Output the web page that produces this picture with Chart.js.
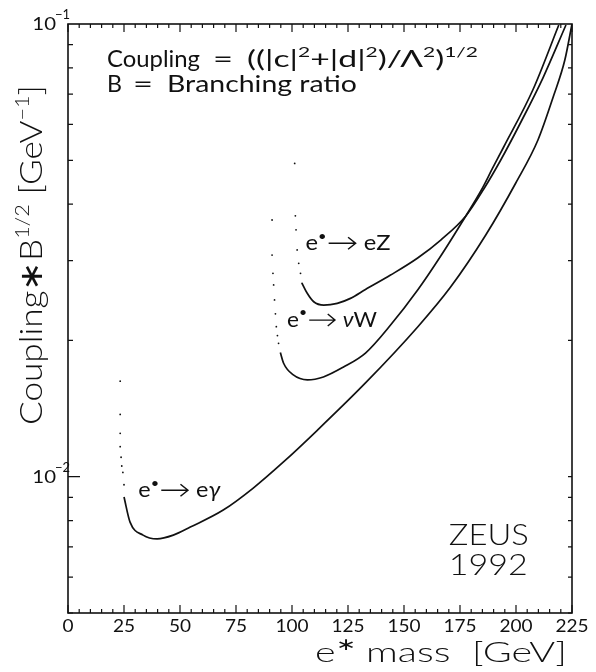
<!doctype html>
<html lang="en">
<head>
<meta charset="utf-8">
<title>ZEUS 1992 excited electron limits</title>
<style>
  * { margin: 0; padding: 0; }
  body { background: #fff; }
  .chartBox { width: 596px; height: 672px; }
</style>
</head>
<body>
<div class="chartBox"><canvas id="myChart"></canvas></div>
<script src="https://cdn.jsdelivr.net/npm/chart.js"></script>
<script>
// axes
const massMin = 0, massMax = 225;
const couplingMin = 0.005, couplingMax = 0.1;
const massTicks = [0, 25, 50, 75, 100, 125, 150, 175, 200, 225];
const decadeTicks = [0.01, 0.1];
const decadeExps = ['\u22122', '\u22121'];

// e* -> e gamma (dotted near threshold, then solid)
const egDotMass = [23.3, 23.3, 23.3, 23.3, 23.7, 24.0, 24.5, 25.0];
const egDotCoupling = [0.01626, 0.01373, 0.01247, 0.01165, 0.01104, 0.01056, 0.01022, 0.0096];
const egMass = [25.0, 27.7, 33.5, 39.8, 47.0, 54.6, 69.3, 82.7, 96.2, 111.4, 132.8, 156.1, 170.8, 186.5, 199.9, 209.8, 216.9, 221.8, 225.0];
const egCoupling = [0.00902, 0.00794, 0.00743, 0.00729, 0.00743, 0.00774, 0.00844, 0.00944, 0.01078, 0.01268, 0.01611, 0.02142, 0.02624, 0.03419, 0.04455, 0.05543, 0.06969, 0.08326, 0.1];

// e* -> nu W
const nwDotMass = [91.1, 91.1, 91.5, 91.8, 92.2, 92.6, 93.0, 93.5, 94.0];
const nwDotCoupling = [0.0369, 0.03088, 0.02814, 0.02652, 0.02457, 0.0229, 0.02145, 0.0205, 0.01971];
const nwMass = [94.8, 96.2, 100.6, 106.9, 114.0, 123.0, 132.8, 144.0, 156.1, 166.4, 177.6, 184.3, 189.6, 194.5, 207.5, 219.1];
const nwCoupling = [0.0188, 0.01783, 0.01678, 0.01636, 0.01661, 0.01747, 0.01876, 0.02163, 0.02585, 0.03073, 0.03767, 0.04276, 0.04808, 0.05349, 0.07148, 0.0995];

// e* -> e Z
const ezDotMass = [101.2, 101.5, 101.8, 102.3, 103.0, 103.8, 104.5];
const ezDotCoupling = [0.0492, 0.0377, 0.0351, 0.0317, 0.0296, 0.02814, 0.02674];
const ezMass = [104.5, 106.8, 109.7, 114.2, 120.2, 126.1, 132.8, 144.0, 156.1, 166.4, 177.6, 185.6, 193.2, 202.2, 212.0, 222.3];
const ezCoupling = [0.02674, 0.02542, 0.02435, 0.02394, 0.02415, 0.02477, 0.02591, 0.02789, 0.03042, 0.03333, 0.03767, 0.0432, 0.05008, 0.06075, 0.07597, 0.0995];

const FONT = 'Lato, "Liberation Sans", Arial, sans-serif';
const INK = '#111';

function pts(xs, ys) {
  return xs.map((m, i) => ({ x: m, y: ys[i] }));
}
function curve(xs, ys) {
  return {
    data: pts(xs, ys), borderColor: INK, borderWidth: 1.7,
    pointRadius: 0, cubicInterpolationMode: 'monotone', fill: false
  };
}
function dots(xs, ys) {
  return {
    data: pts(xs, ys), showLine: false, pointRadius: 0.9,
    pointBackgroundColor: INK, pointBorderWidth: 0
  };
}

// rich text: parts = [{t, sup, it, arrow}]
function partFont(p, size, weight) {
  const s = p.sup ? size * 0.62 : size;
  return (p.it ? 'italic ' : '') + weight + ' ' + s.toFixed(1) + 'px ' + FONT;
}
function partWidth(ctx, p, size, weight) {
  if (p.arrow) return p.arrow;
  ctx.font = partFont(p, size, weight);
  return ctx.measureText(p.t).width;
}
function drawRich(ctx, parts, x, y, size, width, weight = 300) {
  const natural = parts.reduce((w, p) => w + partWidth(ctx, p, size, weight), 0);
  const k = width ? width / natural : 1;
  ctx.save();
  ctx.translate(x, y);
  ctx.scale(k, 1);
  ctx.fillStyle = INK;
  ctx.strokeStyle = INK;
  let cx = 0;
  parts.forEach(p => {
    const w = partWidth(ctx, p, size, weight);
    if (p.arrow) {
      const ay = -size * 0.3;
      ctx.lineWidth = 1.4;
      ctx.beginPath();
      ctx.moveTo(cx + 2, ay); ctx.lineTo(cx + w - 2, ay);
      ctx.moveTo(cx + w - 9, ay - 6); ctx.lineTo(cx + w - 2, ay); ctx.lineTo(cx + w - 9, ay + 6);
      ctx.stroke();
    } else {
      ctx.font = partFont(p, size, weight);
      ctx.fillText(p.t, cx, p.sup ? -size * 0.42 : 0);
    }
    cx += w;
  });
  ctx.restore();
}

const frame = {
  id: 'frame',
  afterDatasetsDraw(chart) {
    const { ctx, chartArea: a, scales: { x, y } } = chart;
    ctx.save();
    ctx.strokeStyle = INK;
    ctx.lineWidth = 1.6;
    ctx.strokeRect(a.left, a.top, a.right - a.left, a.bottom - a.top);

    // x ticks, both edges, inward
    ctx.lineWidth = 1.2;
    ctx.beginPath();
    for (let m = massMin; m <= massMax; m += 5) {
      const px = x.getPixelForValue(m);
      const len = m % 25 === 0 ? 8 : 4;
      ctx.moveTo(px, a.bottom); ctx.lineTo(px, a.bottom - len);
      ctx.moveTo(px, a.top); ctx.lineTo(px, a.top + len);
    }
    // y ticks, both edges, inward
    [0.001, 0.01].forEach(step => {
      for (let k = 1; k <= 9; k++) {
        const v = step * k;
        if (v < couplingMin || v > couplingMax) continue;
        const py = y.getPixelForValue(v);
        const len = k === 1 ? 12 : 5;
        ctx.moveTo(a.left, py); ctx.lineTo(a.left + len, py);
        ctx.moveTo(a.right, py); ctx.lineTo(a.right - 4, py);
      }
    });
    ctx.stroke();

    // x tick labels
    ctx.textBaseline = 'alphabetic';
    massTicks.forEach(m => {
      const s = String(m);
      ctx.font = '400 17px ' + FONT;
      const w = ctx.measureText(s).width * 1.12;
      drawRich(ctx, [{ t: s }], x.getPixelForValue(m) - w / 2, a.bottom + 19, 17, w, 400);
    });
    // y decade labels 10^-n
    decadeTicks.forEach((v, i) => {
      const py = y.getPixelForValue(v);
      ctx.font = '400 17px ' + FONT;
      const w = ctx.measureText('10').width * 1.2;
      drawRich(ctx, [{ t: '10' }], a.left - 12 - w, py + 6, 17, w, 400);
      drawRich(ctx, [{ t: decadeExps[i] }], a.left - 13, py - 5, 13, 0, 400);
    });

    // axis titles
    drawRich(ctx, [{ t: 'e' }, { t: '\u2217', sup: true }, { t: ' mass  [GeV]' }],
      315, 662, 28, 252);
    ctx.save();
    ctx.translate(42, 255);
    ctx.rotate(-Math.PI / 2);
    drawRich(ctx, [{ t: 'Coupling\u2217B' }, { t: '1/2', sup: true }, { t: ' [GeV' },
      { t: '\u22121', sup: true }, { t: ']' }], -170, 0, 32, 340);
    ctx.restore();

    // formula block
    const fx = x.getPixelForValue(17.4);
    const l1 = y.getPixelForValue(0.0804);
    const l2 = y.getPixelForValue(0.0708);
    drawRich(ctx, [{ t: 'Coupling' }], fx, l1, 23, 93, 400);
    drawRich(ctx, [{ t: '=' }], fx + 106, l1, 23, 20, 400);
    drawRich(ctx, [{ t: '((|c|' }, { t: '2', sup: true }, { t: '+|d|' },
      { t: '2', sup: true }, { t: ')/\u039B' }, { t: '2', sup: true }, { t: ')' },
      { t: '1/2', sup: true }], fx + 140, l1, 23, 231, 400);
    drawRich(ctx, [{ t: 'B' }], fx, l2, 23, 15, 400);
    drawRich(ctx, [{ t: '=' }], fx + 26, l2, 23, 20, 400);
    drawRich(ctx, [{ t: 'Branching ratio' }], fx + 60, l2, 23, 190, 400);

    // curve labels
    const arrow = { arrow: 29 };
    drawRich(ctx, [{ t: 'e' }, { t: '\u2022', sup: true }, arrow, { t: ' eZ' }],
      x.getPixelForValue(106), y.getPixelForValue(0.0317), 22, 85, 400);
    drawRich(ctx, [{ t: 'e' }, { t: '\u2022', sup: true }, arrow, { t: ' ' }, { t: '\u03BD', it: true }, { t: 'W' }],
      x.getPixelForValue(97.8), y.getPixelForValue(0.02145), 22, 90, 400);
    drawRich(ctx, [{ t: 'e' }, { t: '\u2022', sup: true }, arrow, { t: ' e' }, { t: '\u03B3', it: true }],
      x.getPixelForValue(31.4), y.getPixelForValue(0.00903), 22, 82, 400);

    // experiment tag
    drawRich(ctx, [{ t: 'ZEUS' }], x.getPixelForValue(170.0), y.getPixelForValue(0.00706), 29, 80);
    drawRich(ctx, [{ t: '1992' }], x.getPixelForValue(170.0), y.getPixelForValue(0.00607), 29, 79);
    ctx.restore();
  }
};

const config = {
  type: 'line',
  data: {
    datasets: [
      dots(egDotMass, egDotCoupling), curve(egMass, egCoupling),
      dots(nwDotMass, nwDotCoupling), curve(nwMass, nwCoupling),
      dots(ezDotMass, ezDotCoupling), curve(ezMass, ezCoupling)
    ]
  },
  options: {
    responsive: true,
    maintainAspectRatio: false,
    animation: false,
    layout: { padding: { left: 68, right: 24, top: 24, bottom: 59 } },
    plugins: { legend: { display: false }, tooltip: { enabled: false } },
    scales: {
      x: { type: 'linear', min: massMin, max: massMax, display: false },
      y: { type: 'logarithmic', min: couplingMin, max: couplingMax, display: false }
    }
  },
  plugins: [frame]
};

const myChart = new Chart(document.getElementById('myChart'), config);
</script>
</body>
</html>
